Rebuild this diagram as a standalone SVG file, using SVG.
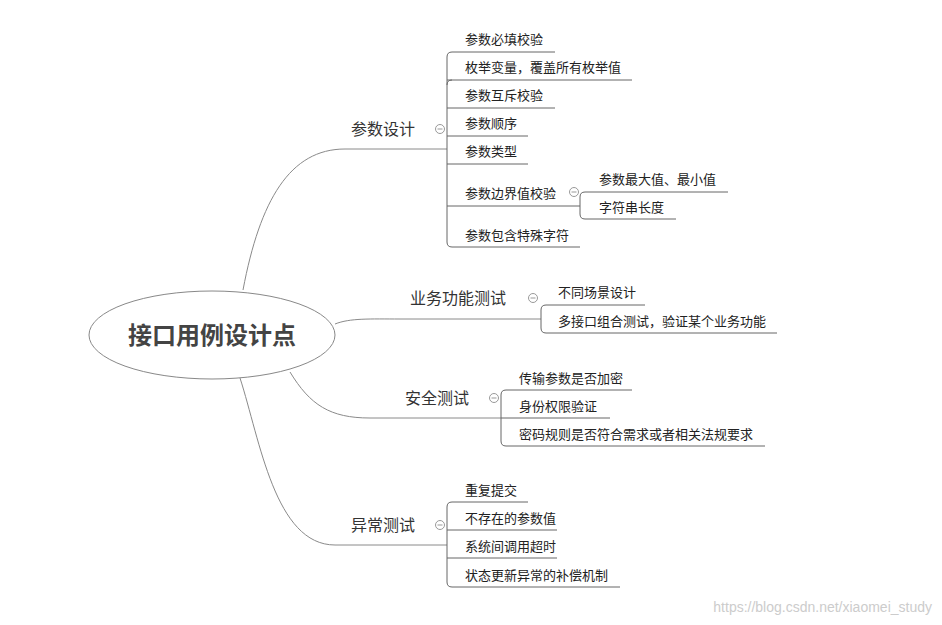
<svg xmlns="http://www.w3.org/2000/svg" width="942" height="625" viewBox="0 0 942 625">
<style>
text{font-family:"Noto Sans CJK SC","Liberation Sans",sans-serif;fill:#222}
.b{font-size:16px;fill:#333}
.c{font-size:13px}
.l{fill:none;stroke:#8a8a8a;stroke-width:1}
.u{fill:none;stroke:#666;stroke-width:1}
.t{fill:#fff;stroke:#999;stroke-width:1}
</style>
<rect width="942" height="625" fill="#fff"/>
<g id="connectors">
<path class="l" d="M243,290 C260,200 290,149 345,149 L447,149"/>
<path class="l" d="M335,324 C350,318 370,319 400,319 L541,319"/>
<path class="l" d="M290,372 C310,405 330,418 370,418 L501,418"/>
<path class="l" d="M240,378 C260,440 275,545 335,545 L447,545"/>
<path class="u" d="M447,57 Q447,52 452,52 L555,52 M447,57 L447,242 Q447,247 452,247 L580,247 M447,80 L632,80 M447,85 Q447,80 452,80 M447,108 L555,108 M447,136 L528,136 M447,164 L528,164 M447,206 L580,206"/>
<path class="u" d="M580,197 Q580,192 585,192 L728,192 M580,197 L580,214 Q580,219 585,219 L676,219"/>
<path class="u" d="M541,310 Q541,305 546,305 L645,305 M541,310 L541,328 Q541,333 546,333 L777,333"/>
<path class="u" d="M501,395 Q501,390 506,390 L632,390 M501,395 L501,441 Q501,446 506,446 L765,446 M501,418 L610,418"/>
<path class="u" d="M447,507 Q447,502 452,502 L528,502 M447,507 L447,582 Q447,587 452,587 L620,587 M447,530 L557,530 M447,558 L557,558"/>
</g>
<g id="root">
<ellipse cx="212" cy="335" rx="123" ry="44" fill="#fff" stroke="#888"/>
<text x="212" y="344" text-anchor="middle" style="font-size:24px;font-weight:bold;fill:#444">接口用例设计点</text>
</g>
<g id="n1"><text class="b" x="351" y="135">参数设计</text><circle class="t" cx="440" cy="129" r="4.5"/><path d="M437.5,129h5" stroke="#999"/></g>
<g id="n1a"><text class="c" x="465" y="44">参数必填校验</text></g>
<g id="n1b"><text class="c" x="465" y="72">枚举变量，覆盖所有枚举值</text></g>
<g id="n1c"><text class="c" x="465" y="100">参数互斥校验</text></g>
<g id="n1d"><text class="c" x="465" y="128">参数顺序</text></g>
<g id="n1e"><text class="c" x="465" y="156">参数类型</text></g>
<g id="n1f"><text class="c" x="465" y="198">参数边界值校验</text><circle class="t" cx="574" cy="192" r="4.5"/><path d="M571.5,192h5" stroke="#999"/></g>
<g id="n1f1"><text class="c" x="599" y="184">参数最大值、最小值</text></g>
<g id="n1f2"><text class="c" x="599" y="212">字符串长度</text></g>
<g id="n1g"><text class="c" x="465" y="240">参数包含特殊字符</text></g>
<g id="n2"><text class="b" x="410" y="304">业务功能测试</text><circle class="t" cx="533" cy="298" r="4.5"/><path d="M530.5,298h5" stroke="#999"/></g>
<g id="n2a"><text class="c" x="558" y="297">不同场景设计</text></g>
<g id="n2b"><text class="c" x="558" y="326">多接口组合测试，验证某个业务功能</text></g>
<g id="n3"><text class="b" x="405" y="404">安全测试</text><circle class="t" cx="494" cy="398" r="4.5"/><path d="M491.5,398h5" stroke="#999"/></g>
<g id="n3a"><text class="c" x="519" y="383">传输参数是否加密</text></g>
<g id="n3b"><text class="c" x="519" y="411">身份权限验证</text></g>
<g id="n3c"><text class="c" x="519" y="439">密码规则是否符合需求或者相关法规要求</text></g>
<g id="n4"><text class="b" x="351" y="531">异常测试</text><circle class="t" cx="440" cy="525" r="4.5"/><path d="M437.5,525h5" stroke="#999"/></g>
<g id="n4a"><text class="c" x="465" y="495">重复提交</text></g>
<g id="n4b"><text class="c" x="465" y="523">不存在的参数值</text></g>
<g id="n4c"><text class="c" x="465" y="551">系统间调用超时</text></g>
<g id="n4d"><text class="c" x="465" y="580">状态更新异常的补偿机制</text></g>
<text x="932" y="612" text-anchor="end" style="font-size:14px;fill:#ccc;font-family:'Liberation Sans',sans-serif">https://blog.csdn.net/xiaomei_study</text>
</svg>
